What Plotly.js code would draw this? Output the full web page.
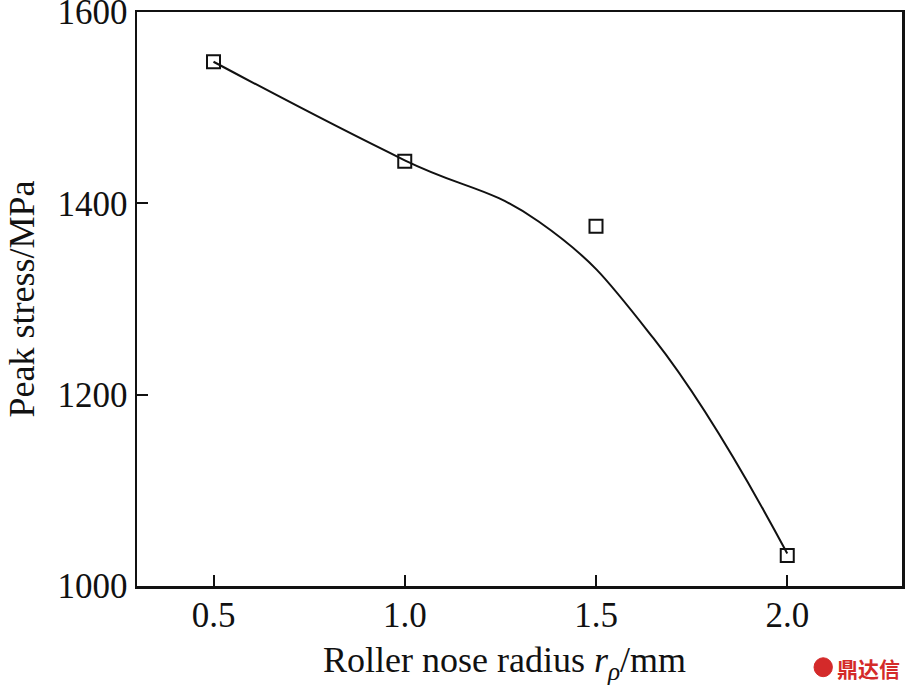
<!DOCTYPE html>
<html>
<head>
<meta charset="utf-8">
<script src="https://cdn.plot.ly/plotly-3.0.1.min.js"></script>
<style>html,body{margin:0;padding:0;background:#fff;}#chart{width:907px;height:694px;}</style>
</head>
<body>
<div id="chart"></div>
<script>
// Measured points
const radius = [0.5, 1.0, 1.5, 2.0];
const peakStress = [1548, 1444, 1376, 1032];
// Fitted curve
const fitRadius = [0.5, 1.0, 1.35, 1.65, 2.0];
const fitStress = [1548, 1445, 1381, 1259, 1034];
const xTicks = [0.5, 1.0, 1.5, 2.0];
const xTickText = ['0.5', '1.0', '1.5', '2.0'];
const yTicks = [1000, 1200, 1400, 1600];
const xTitle = 'Roller nose radius <i>r</i><sub><i>ρ</i></sub>/mm';
const yTitle = 'Peak stress/MPa';

const fontFam = '"Liberation Serif", "Times New Roman", serif';

const traces = [
  {x: fitRadius, y: fitStress, mode: 'lines', type: 'scatter',
   line: {color: '#111', width: 2, shape: 'spline', smoothing: 1.25}, hoverinfo: 'skip', showlegend: false},
  {x: radius, y: peakStress, mode: 'markers', type: 'scatter',
   marker: {symbol: 'square-open', size: 13, color: '#111', line: {width: 2, color: '#111'}}, showlegend: false}
];

const layout = {
  width: 907, height: 694,
  margin: {l: 137, r: 5, t: 12, b: 108},
  paper_bgcolor: '#fff', plot_bgcolor: '#fff',
  font: {family: fontFam, size: 35, color: '#111'},
  xaxis: {
    range: [0.3, 2.3], tickvals: xTicks, ticktext: xTickText,
    ticks: 'inside', ticklen: 11, tickwidth: 2, tickcolor: '#111',
    showline: true, linewidth: 2.5, linecolor: '#111', mirror: true,
    showgrid: false, zeroline: false, ticklabeloverflow: 'allow',
    ticklabelstandoff: -4,
    tickfont: {family: fontFam, size: 35, color: '#111'}
  },
  yaxis: {
    range: [1000, 1600], tickvals: yTicks,
    ticks: 'inside', ticklen: 11, tickwidth: 2, tickcolor: '#111',
    showline: true, linewidth: 2.5, linecolor: '#111', mirror: true,
    showgrid: false, zeroline: false, ticklabeloverflow: 'allow',
    tickfont: {family: fontFam, size: 35, color: '#111'},
    title: {text: yTitle, standoff: 12,
            font: {family: fontFam, size: 36, color: '#111'}}
  },
  shapes: [
    {type: 'circle', xref: 'paper', yref: 'paper',
     x0: 0.885, x1: 0.909, y0: -0.158, y1: -0.125,
     fillcolor: '#d42a2a', line: {color: '#d42a2a', width: 1}}
  ],
  annotations: [
    {xref: 'paper', yref: 'paper', x: 0.481, y: -0.134, xanchor: 'center', yanchor: 'middle',
     text: xTitle, showarrow: false,
     font: {family: fontFam, size: 36, color: '#111'}},
    {xref: 'paper', yref: 'paper', x: 1.0, y: -0.142, xanchor: 'right', yanchor: 'middle',
     text: '<b>鼎达信</b>', showarrow: false,
     font: {family: '"Noto Sans CJK SC"', size: 21, color: '#d42a2a'}}
  ]
};

Plotly.newPlot('chart', traces, layout, {displayModeBar: false, staticPlot: true});
</script>
</body>
</html>
